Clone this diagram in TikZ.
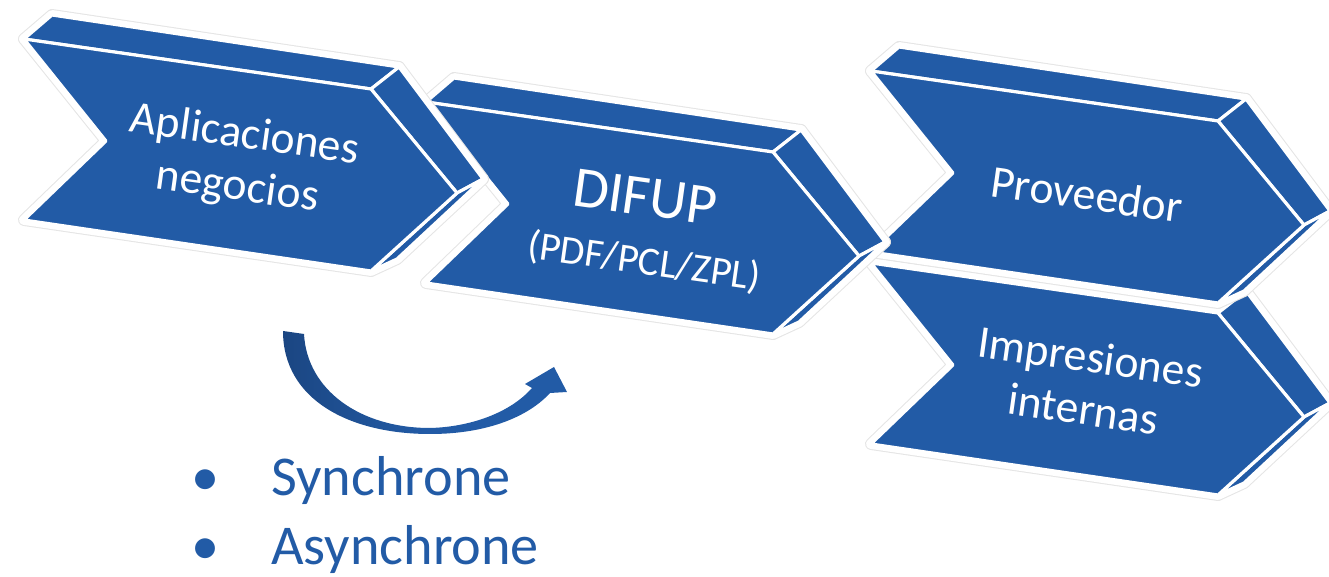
\documentclass[tikz,border=0pt]{standalone}
\usepackage{fontspec}
\setmainfont{Carlito}
\definecolor{chevblue}{RGB}{34,91,166}
\definecolor{deepblue}{RGB}{27,70,130}
\tikzset{
lid/.style={},
chevron/.pic={
\foreach \s in {halo,rim,face}{
\path[\s,lid] (0,0) -- (28,-24) -- (375,28) -- (347,50) -- cycle;
\path[\s] (347,50) -- (375,28) -- (459,140) -- (433,154) -- cycle;
\path[\s] (433,154) -- (459,140) -- (373,220) -- (347,232) -- cycle;
\path[\s] (0,0) -- (347,50) -- (433,154) -- (347,232) -- (0,181) -- (82,102) -- cycle;
}
}
}

\begin{document}
\begin{tikzpicture}[x=0.02cm, y=-0.02cm,
halo/.style={draw=black!10, line width=6.8pt, line join=round},
rim/.style={draw=white, line width=5.6pt, line join=round},
face/.style={fill=chevblue, draw=white, line width=1.8pt, line join=round},
txt/.style={text=white, align=center, rotate=-8, font=\fontsize{26}{30}\selectfont},
listtext/.style={text=chevblue, anchor=base west, inner sep=0pt, font=\fontsize{32}{38}\selectfont}]
\useasboundingbox (0,0) rectangle (1329,577);
\pic (c4) [lid/.style={draw=none,fill=none}] at (871,263) {chevron};
\pic (c3) at (871,71) {chevron};
\pic (c2) at (426,102) {chevron};
\pic (c1) at (24,39) {chevron};
\node[txt] (apps) at (241,162) {Aplicaciones\\negocios};
\node[txt, font=\fontsize{33}{36}\selectfont] (difup) at (645,197) {DIFUP};
\node[txt, font=\fontsize{23}{26}\selectfont] (formats) at (644,262) {(PDF/PCL/ZPL)};
\node[txt] (prov) at (1087,194) {Proveedor};
\node[txt] (impr) at (1087,383) {Impresiones\\internas};
\shade[left color=deepblue, right color=chevblue, middle color=chevblue]
(283,331) .. controls (283,400) and (350,434) .. (430,434)
.. controls (490,434) and (530,415) .. (550,393) -- (567,392) -- (554,367) -- (525,384) -- (532,388)
.. controls (510,413) and (470,427) .. (430,428)
.. controls (360,428) and (307,390) .. (304,334) -- cycle;
\node[listtext] (sync) at (191,496) {\makebox[45.5pt][l]{\textbullet}Synchrone};
\node[listtext] (async) at (191,564) {\makebox[45.5pt][l]{\textbullet}Asynchrone};
\end{tikzpicture}
\end{document}
